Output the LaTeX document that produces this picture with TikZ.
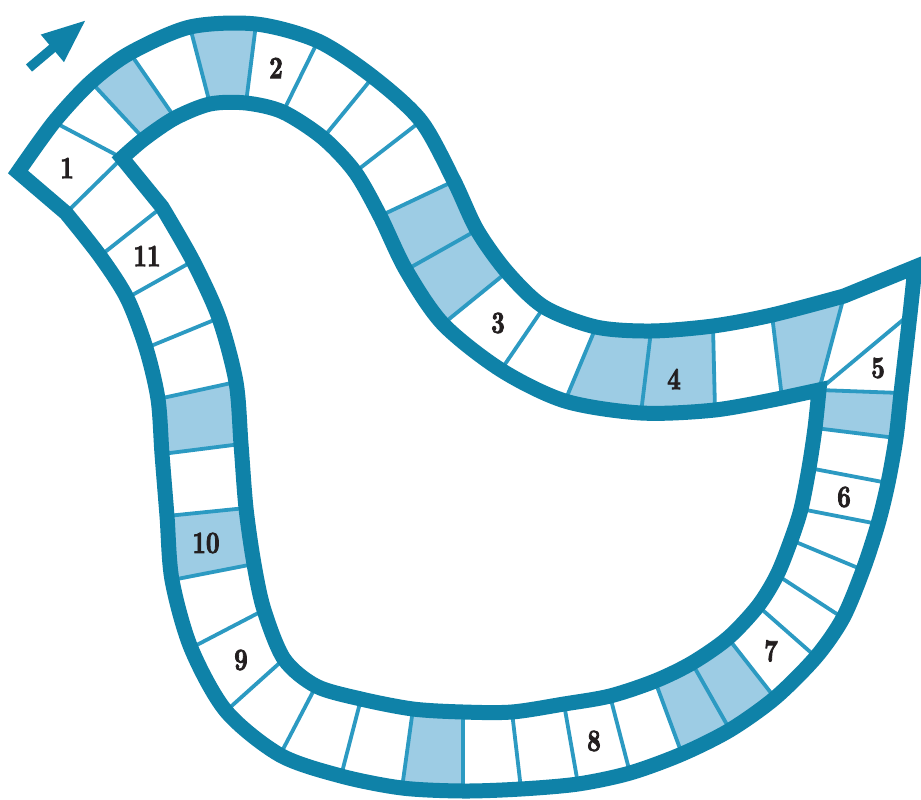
\documentclass[tikz,border=0pt]{standalone}
\usepackage{tikz}
\usepackage{fontspec}
\newfontfamily\numfont{lmroman10-bold.otf}[FakeStretch=0.76, FakeBold=2.5]
\definecolor{trackTeal}{HTML}{0F82A8}
\definecolor{trackLine}{HTML}{2C9AC2}
\definecolor{trackBlue}{HTML}{9DCCE4}
\definecolor{trackInk}{HTML}{231F20}
\usetikzlibrary{arrows.meta,calc}

\begin{document}
\begin{tikzpicture}[x=1pt, y=-1pt,
    rim/.style={trackTeal, line width=15pt, line join=miter},
    divider/.style={trackLine, line width=3.8pt},
    cellfill/.style={fill=trackBlue},
    num/.style={text=trackInk, font=\numfont\fontsize{31}{31}\selectfont, inner sep=0pt}]
    \useasboundingbox (0,0) rectangle (921,800);
    \foreach \n/\ox/\oy/\ix/\iy in {
      1/54/122/122/158, 2/91/82/144/139, 3/130/53/175/118, 4/190/27/210/104,
      5/256/24/246/103, 6/318/41/283/112, 7/373/77/323/138, 8/421/121/355/172,
      9/454/181/380/216, 10/477/230/406/270, 11/507/272/443/324, 12/544/307/501/370,
      13/596/327/565/401, 14/651/331/641/413, 15/713/326/715/410, 16/772/315/782/398,
      17/844/296/819/390, 18/910/314/819/390, 19/901/393/819/390, 20/896/438/815/428,
      21/888/483/809/468, 22/878/524/801/509, 23/863/570/791/540, 24/843/618/777/575,
      25/816/657/758/606, 26/775/698/728/638, 27/730/730/692/663, 28/682/754/655/681,
      29/630/773/610/696, 30/578/784/564/704, 31/521/789/512/712, 32/463/791/463/712,
      33/402/788/413/709, 34/341/776/361/699, 35/280/755/316/686, 36/226/711/284/659,
      37/191/648/264/610, 38/172/580/254/564, 39/167/516/246/508, 40/162/454/241/444,
      41/158/399/236/382, 42/146/348/219/318, 43/127/298/193/261, 44/100/256/162/207,
      45/66/213/122/158}
      {\coordinate (o\n) at (\ox,\oy); \coordinate (i\n) at (\ix,\iy);}
    \coordinate (endL) at (18,172);
    \coordinate (endR) at (915,267);
    \foreach \a/\b in {2/3,4/5,9/10,10/11,13/14,14/15,16/17,19/20,26/27,27/28,32/33,38/39,40/41}
      \fill[cellfill] (o\a) -- (o\b) -- (i\b) -- (i\a) -- cycle;
    \foreach \n in {1,...,45}
      \draw[divider] (o\n) -- (i\n);
    \draw[rim] plot[smooth] coordinates {(endL) (o1) (o2) (o3) (o4) (o5) (o6) (o7) (o8) (o9)
        (o10) (o11) (o12) (o13) (o14) (o15) (o16) (o17)}
      -- plot[smooth] coordinates {(endR) (o18) (o19) (o20) (o21) (o22) (o23) (o24) (o25)
        (o26) (o27) (o28) (o29) (o30) (o31) (o32) (o33) (o34) (o35) (o36) (o37) (o38)
        (o39) (o40) (o41) (o42) (o43) (o44) (o45)} -- cycle;
    \draw[rim] plot[smooth] coordinates {(i1) (i2) (i3) (i4) (i5) (i6) (i7) (i8) (i9)
        (i10) (i11) (i12) (i13) (i14) (i15) (i16)}
      -- plot[smooth] coordinates {(i19) (i20) (i21) (i22) (i23) (i24) (i25) (i26) (i27)
        (i28) (i29) (i30) (i31) (i32) (i33) (i34) (i35) (i36) (i37) (i38) (i39) (i40)
        (i41) (i42) (i43) (i44)} -- cycle;
    \node[num] (num1) at (67,168) {1};
    \node[num] (num2) at (276,68) {2};
    \node[num] (num3) at (498,323) {3};
    \node[num] (num4) at (674,379) {4};
    \node[num] (num5) at (878,368) {5};
    \node[num] (num6) at (844,497) {6};
    \node[num] (num7) at (771,651) {7};
    \node[num] (num8) at (594,741) {8};
    \node[num] (num9) at (241,660) {9};
    \node[num] (num10) at (206,543) {10};
    \node[num] (num11) at (147,256) {11};
    \coordinate (arrTail) at (29,68);
    \coordinate (arrTip) at (86,20);
    \draw[trackTeal, line width=9.4pt, -{Triangle[length=44pt, width=33pt]}] (arrTail) -- (arrTip);
  \end{tikzpicture}
\end{document}
